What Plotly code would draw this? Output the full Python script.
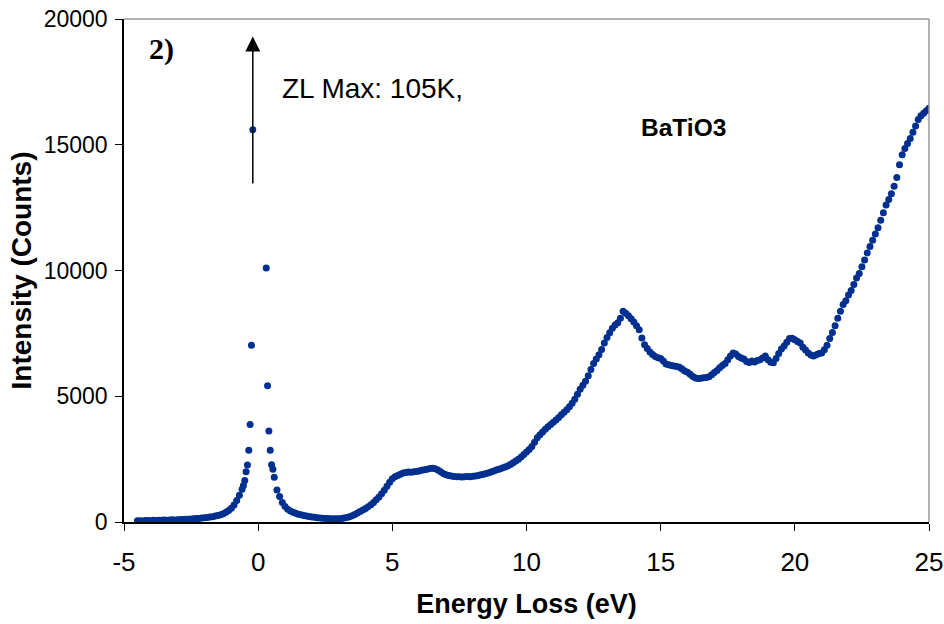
import numpy as np
import plotly.graph_objects as go

# ---------------- data ----------------
# low-energy tail (step 0.1 eV from -4.5 to -0.6)
left_start = -4.5
left_values = [45, 50, 40, 55, 60, 50, 65, 60, 70, 65,
               75, 70, 80, 85, 80, 90, 95, 100, 105, 110,
               115, 125, 135, 140, 155, 165, 180, 195, 210, 235,
               260, 290, 330, 390, 460, 550, 680, 850, 1060, 1300]

# zero-loss peak region (finer sampling)
zlp_energy = [-0.55, -0.5, -0.45, -0.4, -0.35, -0.3, -0.25, -0.2, -0.15, -0.1, -0.05, 0.0,
              0.05, 0.1, 0.15, 0.2, 0.25, 0.3, 0.35, 0.4, 0.45, 0.5, 0.55, 0.6]
zlp_values = [1450, 1650, 2000, 2270, 2850, 3880, 7030, 15600, 32000, 62000, 92000, 105000,
              98000, 74000, 45000, 25000, 22000, 10100, 5420, 3620, 2850, 2280, 2100, 1780]

# energy-loss region (step 0.1 eV from 0.7 to 25.0)
right_start = 0.7
right_values = [1270, 1010, 780, 620, 510, 440, 390, 350, 310, 285,
                260, 235, 215, 200, 185, 170, 160, 150, 140, 135,
                130, 125, 130, 130, 140, 155, 180, 210, 250, 300,
                360, 420, 480, 540, 610, 690, 780, 880, 990, 1120,
                1260, 1420, 1580, 1720, 1800, 1850, 1900, 1950, 1970, 1990,
                1980, 2000, 2010, 2030, 2060, 2080, 2100, 2130, 2140, 2120,
                2070, 2000, 1930, 1880, 1850, 1830, 1810, 1800, 1800, 1790,
                1800, 1810, 1800, 1820, 1830, 1850, 1880, 1900, 1930, 1960,
                2000, 2040, 2080, 2110, 2150, 2190, 2230, 2290, 2360, 2430,
                2500, 2580, 2680, 2780, 2880, 3000, 3170, 3350, 3470, 3580,
                3690, 3790, 3880, 3970, 4060, 4160, 4260, 4360, 4460, 4580,
                4720, 4880, 5080, 5280, 5440, 5600, 5820, 6060, 6300, 6480,
                6650, 6860, 7120, 7340, 7520, 7700, 7830, 7920, 8100, 8380,
                8300, 8200, 8080, 7950, 7800, 7640, 7320, 7050, 6900, 6760,
                6660, 6580, 6530, 6500, 6400, 6280, 6250, 6220, 6200, 6180,
                6150, 6080, 6000, 5950, 5870, 5790, 5730, 5710, 5720, 5740,
                5750, 5780, 5850, 5940, 6020, 6130, 6220, 6300, 6450, 6600,
                6720, 6680, 6580, 6520, 6480, 6380, 6340, 6400, 6360, 6420,
                6450, 6520, 6600, 6450, 6350, 6330, 6500, 6700, 6880, 7000,
                7150, 7300, 7310, 7250, 7180, 7120, 6950, 6840, 6720, 6640,
                6600, 6650, 6700, 6720, 6850, 7030, 7300, 7530, 7800, 8100,
                8380, 8650, 8800, 9030, 9200, 9440, 9700, 9880, 10150, 10420,
                10700, 10950, 11200, 11450, 11700, 12000, 12300, 12600, 12820, 13050,
                13350, 13700, 14200, 14600, 14850, 15050, 15250, 15500, 15750, 16000,
                16150, 16250, 16350, 16450]

step = 0.1
x_ticks = [-5, 0, 5, 10, 15, 20, 25]
y_ticks = [0, 5000, 10000, 15000, 20000]

left_energy = [round(left_start + step * i, 2) for i in range(len(left_values))]
right_energy = [round(right_start + step * i, 2) for i in range(len(right_values))]

energy = left_energy + zlp_energy + right_energy
intensity = left_values + zlp_values + right_values

# ---------------- figure ----------------
fig = go.Figure()
fig.add_trace(go.Scatter(
    x=energy, y=intensity, mode="markers",
    marker=dict(color="#00308F", size=7, symbol="circle", line=dict(width=0)),
    showlegend=False, cliponaxis=True, hoverinfo="skip",
))

fig.update_layout(
    width=944, height=624,
    margin=dict(l=124, r=15, t=19, b=102, autoexpand=False),
    paper_bgcolor="white", plot_bgcolor="white",
    font=dict(family="Liberation Sans, Arial, sans-serif", color="black"),
    showlegend=False,
)

fig.update_xaxes(
    range=[-5, 25], tickvals=x_ticks, ticktext=[str(v) for v in x_ticks],
    showgrid=False, zeroline=False, automargin=False,
    showline=True, linecolor="black", linewidth=1.5,
    ticks="outside", ticklen=7, tickwidth=1, tickcolor="black",
    tickfont=dict(size=26, family="Liberation Sans, Arial"),
    ticklabelstandoff=9,
    title=dict(text="<b>Energy Loss (eV)</b>", font=dict(size=27, family="Liberation Sans, Arial"),
               standoff=18),
)
fig.update_yaxes(
    range=[0, 20000], tickvals=y_ticks, ticktext=[str(v) for v in y_ticks],
    showgrid=False, zeroline=False, automargin=False,
    showline=True, linecolor="black", linewidth=1.5,
    ticks="outside", ticklen=7, tickwidth=1, tickcolor="black",
    tickfont=dict(size=23, family="Liberation Sans, Arial"),
    ticklabelstandoff=3,
    title=dict(text="<b>Intensity (Counts)</b>", font=dict(size=28, family="Liberation Sans, Arial"),
               standoff=4),
)

# gray frame on top and right
fig.add_shape(type="line", xref="paper", yref="paper", x0=0, x1=1, y0=1, y1=1,
              line=dict(color="#999999", width=1.5))
fig.add_shape(type="line", xref="paper", yref="paper", x0=1, x1=1, y0=0, y1=1,
              line=dict(color="#999999", width=1.5))

# arrow showing the zero-loss maximum
fig.add_annotation(x=-0.2, y=19300, ax=-0.2, ay=13400, xref="x", yref="y",
                   axref="x", ayref="y", text="", showarrow=True,
                   arrowhead=2, arrowsize=2, arrowwidth=1.5, arrowcolor="black")

fig.add_annotation(x=-3.6, y=18800, xref="x", yref="y", text="<b>2)</b>",
                   showarrow=False, xanchor="center", yanchor="middle",
                   font=dict(size=30, family="Liberation Serif, Times New Roman, serif"))
fig.add_annotation(x=0.8, y=17250, xref="x", yref="y", text="ZL Max: 105K,",
                   showarrow=False, xanchor="left", yanchor="middle",
                   font=dict(size=28, family="Liberation Sans, Arial"))
fig.add_annotation(x=14.2, y=15700, xref="x", yref="y", text="<b>BaTiO3</b>",
                   showarrow=False, xanchor="left", yanchor="middle",
                   font=dict(size=24.5, family="Liberation Sans, Arial"))

fig.write_html("out.html", config={"displayModeBar": False},
               post_script="document.body.style.margin='0';document.body.style.padding='0';")
